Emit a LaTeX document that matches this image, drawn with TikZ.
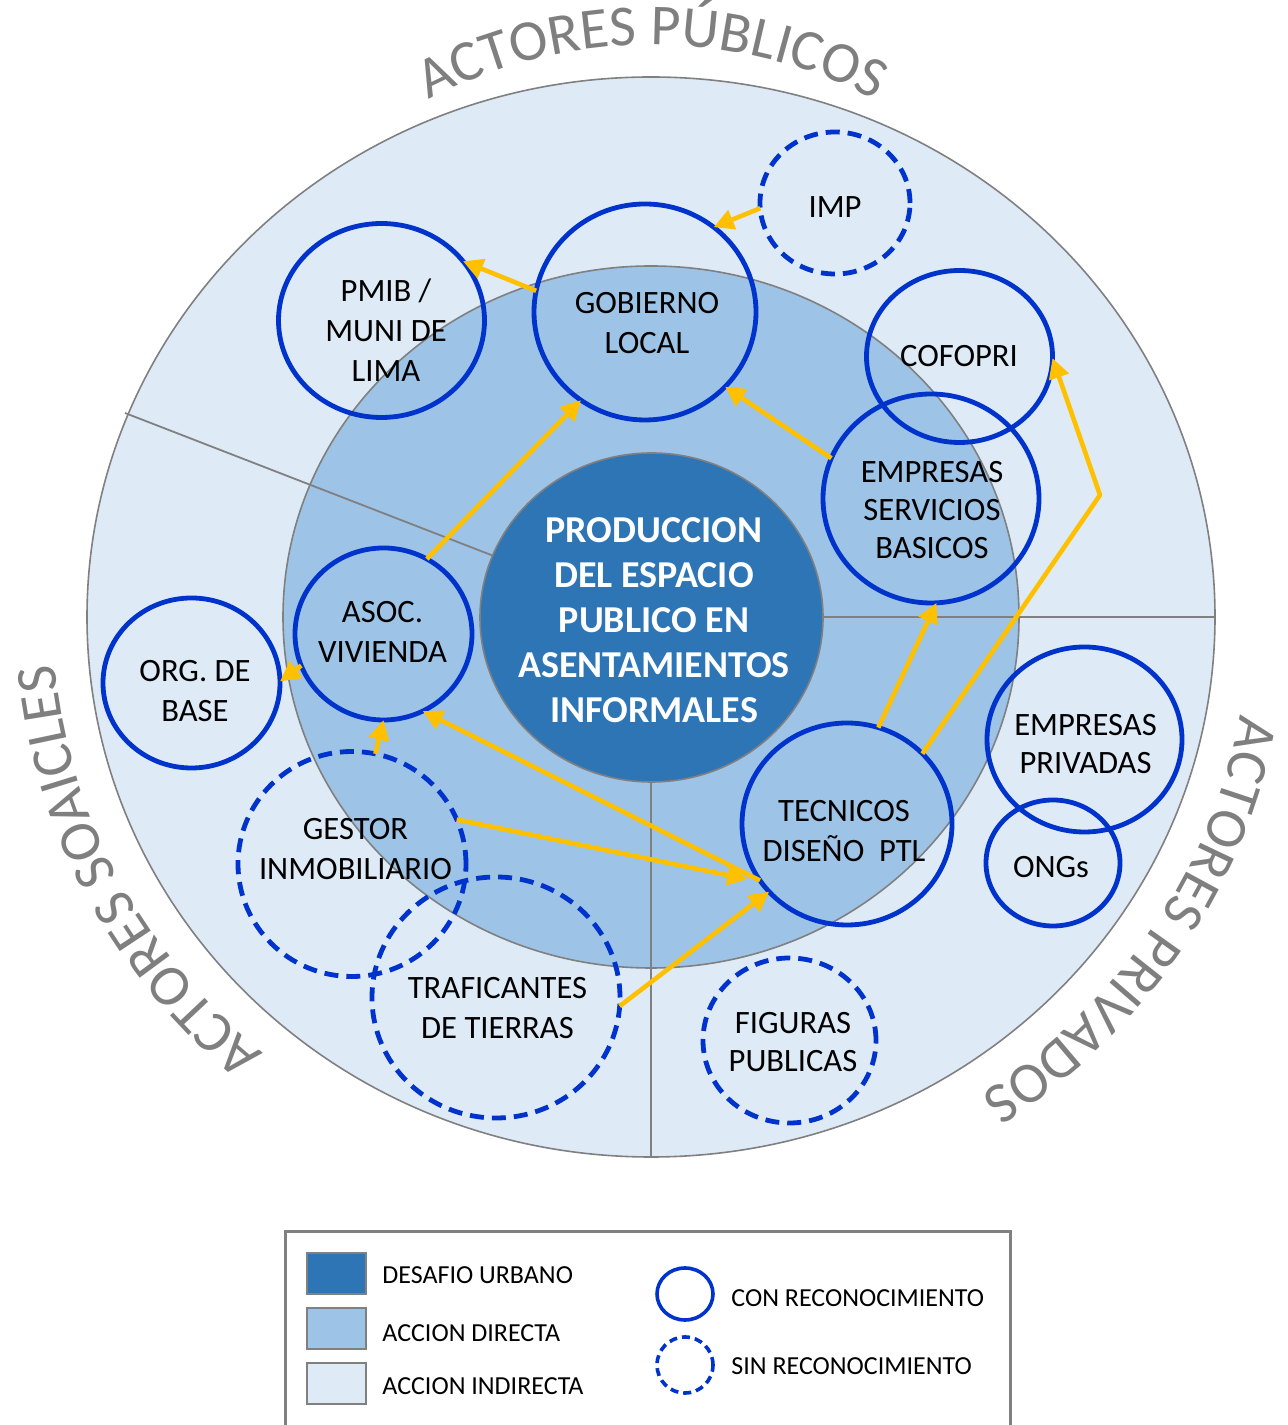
\documentclass[tikz,border=0pt]{standalone}
\usepackage{fontspec}
\setmainfont{Carlito}
\usetikzlibrary{arrows.meta,shapes.geometric,decorations.text,calc}
\definecolor{ringout}{HTML}{DEEBF7}
\definecolor{ringmid}{HTML}{9DC3E6}
\definecolor{core}{HTML}{2E75B6}
\definecolor{edgegray}{HTML}{808080}
\definecolor{actorblue}{HTML}{0033CC}
\definecolor{gold}{HTML}{FFC000}
\definecolor{lblgray}{HTML}{7F7F7F}
\newcommand\curvefont{\fontsize{29}{31}\selectfont\color{lblgray}}
\begin{document}
\begin{tikzpicture}[x=0.5pt,y=0.5pt,
  actor/.style={ellipse, draw=actorblue, line width=2.4pt, inner sep=0pt, outer sep=0pt},
  actordash/.style={actor, dash pattern=on 7pt off 4pt},
  txt/.style={align=center, inner sep=0pt, font=\fontsize{16.3}{20}\selectfont},
  txtn/.style={align=center, inner sep=0pt, font=\fontsize{16.3}{19}\selectfont},
  arr/.style={draw=gold, line width=2.3pt, line join=round, -{Triangle[length=10pt,width=10pt]}},
  swatch/.style={rectangle, draw=edgegray, line width=0.8pt, minimum width=29.5pt, minimum height=20.5pt, inner sep=0pt},
  legtxt/.style={anchor=west, inner sep=0pt, font=\fontsize{13}{15}\selectfont},
  curved/.style={decorate, decoration={text along path, text align=center, text={#1}}}
]
\useasboundingbox (0,0) rectangle (1287,1425);
\coordinate (C) at (651,808);
\coordinate (CT) at (652,900);
% rings
\filldraw[fill=ringout, draw=edgegray, line width=0.8pt] (C) ellipse [x radius=564, y radius=540];
\filldraw[fill=ringmid, draw=edgegray, line width=0.8pt] (C) ellipse [x radius=368, y radius=351];
% dividers
\coordinate (dR) at (1215,808);
\coordinate (dB) at (651,268);
\coordinate (dL) at (125,1012);
\draw[edgegray, line width=0.9pt] (C) -- (dR) (C) -- (dB) (C) -- (dL);
% core
\node[ellipse, fill=core, draw=edgegray, line width=0.8pt, inner sep=0pt, outer sep=0pt,
      minimum width=171.5pt, minimum height=164.5pt] (prod) at (651.5,807.5) {};
\node[align=center, inner sep=0pt, text=white, font=\bfseries\fontsize{19}{22.5}\selectfont] (prodT) at (654,805)
  {PRODUCCION\\DEL ESPACIO\\PUBLICO EN\\ASENTAMIENTOS\\INFORMALES};
% actors
\node[actordash, minimum width=75pt, minimum height=71pt] (imp) at (835,1222) {};
\node[actor, minimum width=111pt, minimum height=108pt] (gob) at (645,1113) {};
\node[actor, minimum width=103pt, minimum height=97pt] (pmib) at (381.5,1104.5) {};
\node[actor, minimum width=93pt, minimum height=86pt] (cof) at (959.5,1068.5) {};
\node[actor, minimum width=108pt, minimum height=104.5pt] (esb) at (931,926.5) {};
\node[actor, minimum width=88.5pt, minimum height=86pt] (asoc) at (383.5,791) {};
\node[actor, minimum width=88.5pt, minimum height=85pt] (org) at (191.5,742) {};
\node[actordash, minimum width=114pt, minimum height=112.5pt] (gestor) at (352,561) {};
\node[actordash, minimum width=124pt, minimum height=120.5pt] (traf) at (496,427.5) {};
\node[actordash, minimum width=86.5pt, minimum height=82.5pt] (fig) at (789.5,384.5) {};
\node[actor, minimum width=105pt, minimum height=101pt] (tec) at (847,601) {};
\node[actor, minimum width=97.5pt, minimum height=92.5pt] (empr) at (1084.5,685.5) {};
\node[actor, minimum width=67pt, minimum height=63pt] (ong) at (1053,562) {};
% arrows
\coordinate (bend) at (1100,930);
\draw[arr] (imp.184) -- (gob.51);
\draw[arr] (gob.169) -- (pmib.36);
\draw[arr] (asoc.60) -- (gob.234);
\draw[arr] (esb.158) -- (gob.-43);
\draw[arr] (asoc.201) -- (org.1);
\draw[arr] (gestor.78) -- (asoc.-90);
\draw[arr] (tec.213) -- (asoc.-63);
\draw[arr, shorten >=7pt] (gestor.23) -- (tec.214);
\draw[arr] (traf.-4.5) -- (tec.221);
\draw[arr] (tec.72) -- (esb.-87);
\draw[arr] (tec.43) -- (bend) -- (cof.-1);
% actor labels
\node[txt] (impT) at (835,1218) {IMP};
\node[txt] (gobT) at (647,1102) {GOBIERNO\\LOCAL};
\node[txt] (pmibT) at (386,1095) {PMIB /\\MUNI DE\\LIMA};
\node[txt] (cofT) at (959,1069) {COFOPRI};
\node[txtn] (esbT) at (932,914.5) {EMPRESAS\\SERVICIOS\\BASICOS};
\node[txt] (asocT) at (382.5,793) {ASOC.\\VIVIENDA};
\node[txt] (orgT) at (195,734) {ORG. DE\\BASE};
\node[txt] (gestT) at (355.5,575.5) {GESTOR\\INMOBILIARIO};
\node[txt] (trafT) at (497.5,417) {TRAFICANTES\\DE TIERRAS};
\node[txtn] (figT) at (793,382.5) {FIGURAS\\PUBLICAS};
\node[txt] (tecT) at (844,594) {TECNICOS\\DISEÑO\ \ PTL};
\node[txtn] (emprT) at (1085.5,681) {EMPRESAS\\PRIVADAS};
\node[txt] (ongT) at (1051,558) {ONGs};
% curved titles
\path[curved={|\curvefont|ACTORES PÚBLICOS}] ($(CT)+(130:480)$) arc[start angle=130, end angle=50, radius=480];
\path[curved={|\curvefont|ACTORES SOAICLES}] ($(C)+(242:598 and 572)$) arc[start angle=242, end angle=172, x radius=598, y radius=572];
\path[curved={|\curvefont|ACTORES PRIVADOS}] ($(C)+(2:598 and 572)$) arc[start angle=2, end angle=-68, x radius=598, y radius=572];
% legend
\draw[edgegray, line width=1.5pt] (285,-5) |- (1010,193) -- (1010,-5);
\node[swatch, fill=core] (sw1) at (336.5,151.5) {};
\node[swatch, fill=ringmid] (sw2) at (336.5,96.5) {};
\node[swatch, fill=ringout] (sw3) at (336.5,41.5) {};
\node[legtxt] (l1) at (382,150) {DESAFIO URBANO};
\node[legtxt] (l2) at (382,91.5) {ACCION DIRECTA};
\node[legtxt] (l3) at (382,39) {ACCION INDIRECTA};
\node[actor, line width=1.8pt, minimum width=28pt, minimum height=26pt] (lc1) at (685,131) {};
\node[actor, line width=1.8pt, dash pattern=on 4pt off 2.5pt, minimum width=28pt, minimum height=28pt] (lc2) at (685,60) {};
\node[legtxt] (l4) at (731,127) {CON RECONOCIMIENTO};
\node[legtxt] (l5) at (731,59) {SIN RECONOCIMIENTO};
\end{tikzpicture}
\end{document}
